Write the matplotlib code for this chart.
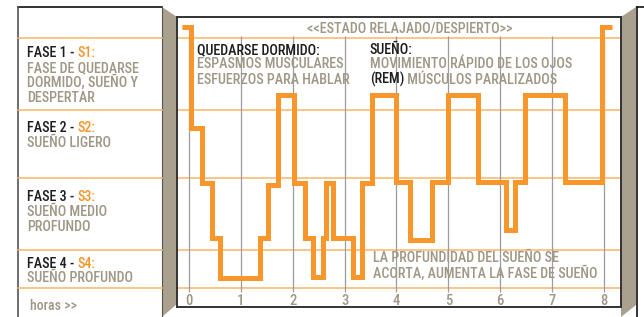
import matplotlib.pyplot as plt
from matplotlib import font_manager
from matplotlib.patches import Polygon
from matplotlib.transforms import blended_transform_factory

# pick a condensed sans if one is installed (the original uses a narrow face)
cond = [f for f in font_manager.fontManager.ttflist
        if f.stretch in ('condensed', 'semi-condensed') and f.style == 'normal']
cond.sort(key=lambda f: (0 if 'Liberation' in f.name else 1 if 'Roboto' in f.name else 2))
if cond:
    plt.rcParams['font.family'] = [cond[0].name, 'DejaVu Sans']
    plt.rcParams['font.stretch'] = cond[0].stretch
plt.rcParams['font.weight'] = 'medium'

# hypnogram: hour where each step starts and its depth (0 = top of the box)
hours = [-0.13, 0.04, 0.245, 0.44, 0.6, 1.37, 1.53, 1.72, 2.02, 2.24, 2.40, 2.59, 2.64, 2.78,
         3.17, 3.33, 3.52, 4.00, 4.26, 4.68, 5.00, 5.58, 6.12, 6.28, 6.48, 7.25, 7.96, 8.15]
depth = [10, 111, 166, 221, 261, 221, 168, 78, 166, 221, 260, 221, 166, 221,
         260, 166, 78, 165, 223, 165, 78, 165, 213, 165, 78, 165, 10, 10]
band_lines = [21, 93, 161, 233, 271]
tick_hours = [0, 1, 2, 3, 4, 5, 6, 7, 8]

orange = '#F7962B'
light_orange = '#FAB46A'
grey_txt = '#A09886'
beige = '#A9A18E'
dark = '#1E1E1E'

fig = plt.figure(figsize=(6.44, 3.17), dpi=100)

# background axes in pixel units for the frame decoration
bg = fig.add_axes([0, 0, 1, 1])
bg.set_xlim(0, 644)
bg.set_ylim(317, 0)
bg.axis('off')

bg.add_patch(Polygon([(162, 7), (177, 17), (177, 304), (162, 317)], closed=True, fc=beige, ec='none'))
bg.add_patch(Polygon([(621, 17), (636, 7), (636, 305), (621, 317)], closed=True, fc=beige, ec='none'))
bg.plot([18, 162], [7, 7], color='#111111', lw=1.2)
bg.plot([18, 18], [7, 317], color='#555555', lw=1.2)
bg.plot([162, 162], [7, 317], color='#555555', lw=0.8)
bg.plot([637, 637], [7, 317], color='#111111', lw=1.2)
bg.plot([637, 644], [7, 7], color='#111111', lw=1.2)

# main chart
ax = fig.add_axes([177/644, 10/317, 444/644, 290/317])
ax.set_xlim(-0.231, 8.328)
ax.set_ylim(290, 0)
ax.set_xticks([])
ax.set_yticks([])
for s in ax.spines.values():
    s.set_color('#333333')
    s.set_linewidth(1.4)

for d in band_lines:
    ax.axhline(d, color=light_orange, lw=1.1, zorder=1)
# same lines across the left panel
tr = blended_transform_factory(bg.transData, ax.transData)
for d in band_lines:
    bg.plot([18, 162], [d, d], color=light_orange, lw=1.1, transform=tr)

ax.vlines(tick_hours, 19, 275, color='#9C9C9C', lw=0.9, zorder=2)
for h in tick_hours:
    ax.text(h, 288, str(h), ha='center', va='baseline', fontsize=10.5, color=grey_txt)

ax.plot(hours, depth, drawstyle='steps-post', color=orange, lw=3.6,
        solid_joinstyle='miter', solid_capstyle='butt', zorder=3)

# overlay in pixel units for the text on top of the chart
top = fig.add_axes([0, 0, 1, 1])
top.set_xlim(0, 644)
top.set_ylim(317, 0)
top.axis('off')
top.patch.set_visible(False)

fs = 10.2


def two_color(axis, x, y, first, second, c1, c2, size=fs):
    t = axis.text(x, y, first, color=c1, fontsize=size, va='baseline')
    axis.annotate(second, xy=(1, 0), xycoords=t, color=c2, fontsize=size, va='bottom')


# left panel labels
two_color(top, 27, 57, 'FASE 1 - ', 'S1:', dark, orange)
top.text(27, 72, 'FASE DE QUEDARSE', color=grey_txt, fontsize=fs)
top.text(27, 87, 'DORMIDO, SUEÑO Y', color=grey_txt, fontsize=fs)
top.text(27, 102, 'DESPERTAR', color=grey_txt, fontsize=fs)
two_color(top, 27, 132, 'FASE 2 - ', 'S2:', dark, orange)
top.text(27, 147, 'SUEÑO LIGERO', color=grey_txt, fontsize=fs)
two_color(top, 27, 201, 'FASE 3 - ', 'S3:', dark, orange)
top.text(27, 216, 'SUEÑO MEDIO', color=grey_txt, fontsize=fs)
top.text(27, 231, 'PROFUNDO', color=grey_txt, fontsize=fs)
two_color(top, 27, 268, 'FASE 4 - ', 'S4:', dark, orange)
top.text(27, 282, 'SUEÑO PROFUNDO', color=grey_txt, fontsize=fs)
top.text(30, 310, 'horas >>', color=grey_txt, fontsize=10)

# annotations inside the chart
top.text(307, 32.5, '<<ESTADO RELAJADO/DESPIERTO>>', color=grey_txt, fontsize=fs)
top.text(197, 54.5, 'QUEDARSE DORMIDO:', color=dark, fontsize=fs)
top.text(197, 68.5, 'ESPASMOS MUSCULARES', color=grey_txt, fontsize=fs)
top.text(197, 83.5, 'ESFUERZOS PARA HABLAR', color=grey_txt, fontsize=fs)
top.text(370, 54.5, 'SUEÑO:', color=dark, fontsize=fs)
top.text(370, 68.5, 'MOVIMIENTO RÁPIDO DE LOS OJOS', color=grey_txt, fontsize=fs)
two_color(top, 370, 83.5, '(REM)', ' MÚSCULOS PARALIZADOS', dark, grey_txt)
top.text(373, 262.5, 'LA PROFUNDIDAD DEL SUEÑO SE', color=grey_txt, fontsize=fs)
top.text(373, 277.5, 'ACORTA, AUMENTA LA FASE DE SUEÑO', color=grey_txt, fontsize=fs)

plt.savefig('out.png', dpi=100)
